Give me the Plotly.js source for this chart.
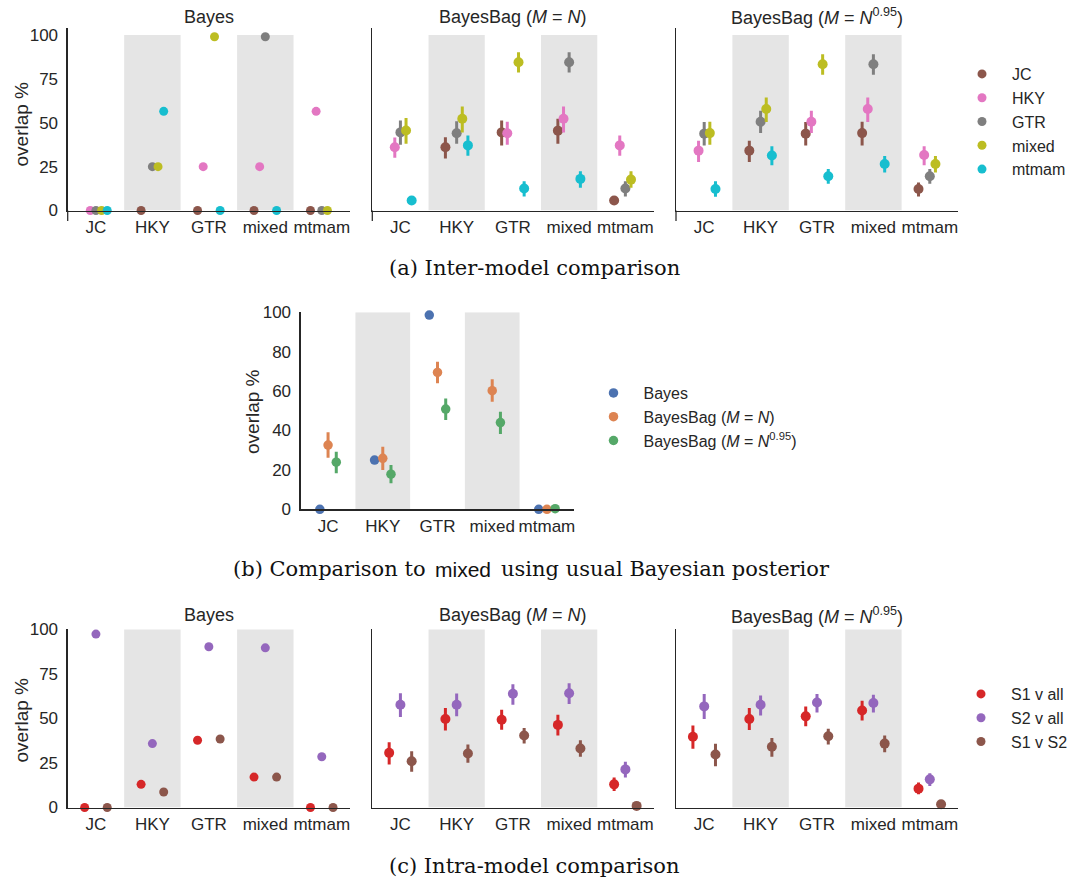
<!DOCTYPE html>
<html>
<head>
<meta charset="utf-8">
<script src="https://cdn.plot.ly/plotly-3.0.1.min.js"></script>
<style>html,body{margin:0;padding:0;background:#fff;}#chart{width:1075px;height:882px;}</style>
</head>
<body>
<div id="chart"></div>
<script>
// ---------------- DATA ----------------
const categories = ['JC', 'HKY', 'GTR', 'mixed', 'mtmam'];

// (a) inter-model comparison: hue = compared model, one row per hue, columns = categories
const interHues = ['JC', 'HKY', 'GTR', 'mixed', 'mtmam'];
const interBayes = [
  [null, 0, 0, 0, 0],
  [0, null, 25, 25, 56.5],
  [0, 25, null, 99, 0],
  [0, 25, 99, null, 0],
  [0, 56.5, 0, 0, null]
];
const interBagN = [
  [null, 36, 44.5, 45.5, 5.7],
  [36, null, 44, 52.3, 37.1],
  [44.5, 44, null, 84.5, 12.5],
  [45.6, 52.3, 84.5, null, 17.6],
  [5.7, 37.1, 12.5, 18, null]
];
const interBagNLo = [
  [null, 29.6, 37.1, 38, 3.5],
  [30, null, 37.5, 44.5, 31.2],
  [37.5, 38.1, null, 78.6, 8],
  [38, 44.5, 78.6, null, 13],
  [3.7, 31.2, 8, 12.9, null]
];
const interBagNHi = [
  [null, 41.8, 51.3, 52.3, 8],
  [41.6, null, 50.6, 59.3, 42.8],
  [51.3, 50.8, null, 90.2, 16.7],
  [52.7, 59.3, 90.2, null, 22.3],
  [8, 42.8, 16.7, 22.3, null]
];
const interBag95 = [
  [null, 34.1, 43.8, 44.1, 12.3],
  [34.1, null, 50.6, 57.8, 31.6],
  [43.8, 50.6, null, 83.3, 19.5],
  [44.1, 57.8, 83.3, null, 26.5],
  [12.3, 31.3, 19.5, 26.5, null]
];
const interBag95Lo = [
  [null, 27.7, 37.1, 37.1, 8],
  [27.7, null, 44.1, 50.4, 25.8],
  [37.1, 44.1, null, 77.3, 15.2],
  [37.5, 50.4, 77.3, null, 21.6],
  [7.8, 25.8, 15.2, 21.6, null]
];
const interBag95Hi = [
  [null, 39.8, 50.4, 50.6, 16],
  [39.8, null, 56.9, 64.4, 36.6],
  [50.4, 56.9, null, 89, 23.7],
  [50.6, 64.4, 89, null, 31],
  [16.7, 36.6, 23.7, 31, null]
];

// (b) comparison to mixed
const mixedHues = ['Bayes', 'BayesBag (<i>M</i> = <i>N</i>)', 'BayesBag (<i>M</i> = <i>N</i><sup>0.95</sup>)'];
const mixedMean = [
  [0, 25, 98.6, null, 0],
  [32.6, 25.9, 69.5, 60.2, 0],
  [23.9, 17.8, 50.9, 44, 0.3]
];
const mixedLo = [
  [null, null, null, null, null],
  [26.2, 20, 64, 54.6, 0],
  [18.3, 13.2, 45.3, 38.2, 0.3]
];
const mixedHi = [
  [null, null, null, null, null],
  [39.1, 31.8, 74.9, 66, 0],
  [29.2, 22.5, 56.3, 49.5, 0.3]
];

// (c) intra-model comparison
const intraHues = ['S1 v all', 'S2 v all', 'S1 v S2'];
const intraBayes = [
  [0, 13, 37.8, 17.1, 0],
  [97.4, 35.9, 90.3, 89.7, 28.5],
  [0, 8.7, 38.5, 17.1, 0]
];
const intraBagN = [
  [30.7, 49.7, 49.3, 46.4, 13],
  [57.7, 57.7, 63.9, 64.2, 21.4],
  [26, 30.3, 40.4, 33.1, 0.9]
];
const intraBagNLo = [
  [24.2, 43.2, 43.7, 40.4, 9.3],
  [50.8, 51.2, 57.7, 58.1, 16.8],
  [20.1, 25.1, 35.9, 28.5, 0.9]
];
const intraBagNHi = [
  [36.6, 55.9, 54.9, 52.1, 16.8],
  [64.2, 64, 69.3, 69.8, 25.7],
  [31.6, 35.4, 44.7, 37.8, 0.9]
];
const intraBag95 = [
  [39.7, 49.7, 51.2, 54.5, 10.6],
  [56.8, 57.7, 59, 58.7, 15.8],
  [29.8, 34.1, 40, 35.9, 1.8]
];
const intraBag95Lo = [
  [33, 43.6, 45.6, 48.9, 7.4],
  [49.7, 51.7, 53.4, 53.4, 12.1],
  [23.2, 28.5, 35.4, 31.1, 1.8]
];
const intraBag95Hi = [
  [46, 55.9, 56.8, 59.9, 14],
  [63.7, 62.9, 63.7, 63.3, 19.2],
  [35.8, 39.1, 44.3, 40.4, 1.8]
];

const yTicksAC = [0, 25, 50, 75, 100];
const yTicksB = [0, 20, 40, 60, 80, 100];

// ---------------- STYLE ----------------
const interColors = ['#8c564b', '#e377c2', '#7f7f7f', '#bcbd22', '#17becf'];
const mixedColors = ['#4c72b0', '#dd8452', '#55a868'];
const intraColors = ['#d62728', '#9467bd', '#8c564b'];
const W = 1075, H = 882;
const FONT = 'Liberation Sans';
const FS = 17;
const TXT = '#262626';
const AX = '#262626';
const px = p => p / W;
const py = p => 1 - p / H;

const traces = [];
function addPanel(xa, ya, hues, colors, means, lo, hi, offsets, legendName, showLeg, msize) {
  hues.forEach((h, k) => {
    const y = means[k];
    const t = {
      type: 'scatter', mode: 'markers', name: h,
      x: categories.map((c, i) => i + offsets[k]),
      y: y,
      xaxis: xa, yaxis: ya,
      marker: {color: colors[k], size: msize},
      cliponaxis: false,
      showlegend: showLeg, legend: legendName,
      hoverinfo: 'skip'
    };
    if (lo && hi) {
      t.error_y = {
        type: 'data', symmetric: false,
        array: y.map((v, i) => (v == null || hi[k][i] == null) ? 0 : hi[k][i] - v),
        arrayminus: y.map((v, i) => (v == null || lo[k][i] == null) ? 0 : v - lo[k][i]),
        color: colors[k], thickness: 3, width: 0
      };
    }
    traces.push(t);
  });
}
const off5 = [-0.2, -0.1, 0, 0.1, 0.2];
const off3c = [-0.2, 0, 0.2];
const off3b = [-0.15, 0, 0.15];

addPanel('x', 'y', interHues, interColors, interBayes, null, null, off5, 'legend', true, 9);
addPanel('x2', 'y2', interHues, interColors, interBagN, interBagNLo, interBagNHi, off5, 'legend', false, 10);
addPanel('x3', 'y3', interHues, interColors, interBag95, interBag95Lo, interBag95Hi, off5, 'legend', false, 10);
addPanel('x4', 'y4', mixedHues, mixedColors, mixedMean, mixedLo, mixedHi, off3b, 'legend2', true, 9.5);
addPanel('x5', 'y5', intraHues, intraColors, intraBayes, null, null, off3c, 'legend3', true, 9);
addPanel('x6', 'y6', intraHues, intraColors, intraBagN, intraBagNLo, intraBagNHi, off3c, 'legend3', false, 10);
addPanel('x7', 'y7', intraHues, intraColors, intraBag95, intraBag95Lo, intraBag95Hi, off3c, 'legend3', false, 10);

// panel geometry in pixels
const colsX = [[67.7, 350], [372.3, 653.5], [676, 958]];
const topY = [28, 210.5], botY = [628.6, 807.5], midX = [300.7, 574.3], midY = [312.3, 509.3];

function xAxis(dom, anchor) {
  return {
    domain: [px(dom[0]), px(dom[1])], anchor: anchor,
    range: [-0.5, 4.5], tickvals: categories.map((c, i) => i), ticktext: categories,
    showline: true, linecolor: AX, linewidth: 1.25, showgrid: false, zeroline: false,
    ticks: '', ticklabelstandoff: 1,
    tickfont: {family: FONT, size: FS, color: TXT}, fixedrange: true
  };
}
function yAxis(dom, anchor, range, tv, showLab) {
  return {
    domain: [py(dom[1]), py(dom[0])], anchor: anchor,
    range: range, tickvals: tv, showticklabels: showLab,
    showline: true, linecolor: AX, linewidth: 1.25, showgrid: false, zeroline: false,
    ticks: '', ticklabelstandoff: 5,
    tickfont: {family: FONT, size: FS, color: TXT}, fixedrange: true
  };
}
function legendBox(x, y) {
  return {x: px(x), y: py(y), xanchor: 'left', yanchor: 'top', bgcolor: 'rgba(0,0,0,0)',
    font: {family: FONT, size: 16, color: TXT}, itemwidth: 50, itemclick: false, tracegroupgap: 0};
}

const layout = {
  width: W, height: H, margin: {l: 0, r: 0, t: 0, b: 0},
  paper_bgcolor: '#fff', plot_bgcolor: 'rgba(0,0,0,0)',
  font: {family: FONT, size: FS, color: TXT},
  xaxis: xAxis(colsX[0], 'y'), yaxis: yAxis(topY, 'x', [0, 104], yTicksAC, true),
  xaxis2: xAxis(colsX[1], 'y2'), yaxis2: yAxis(topY, 'x2', [0, 104], yTicksAC, false),
  xaxis3: xAxis(colsX[2], 'y3'), yaxis3: yAxis(topY, 'x3', [0, 104], yTicksAC, false),
  xaxis4: xAxis(midX, 'y4'), yaxis4: yAxis(midY, 'x4', [0, 100], yTicksB, true),
  xaxis5: xAxis(colsX[0], 'y5'), yaxis5: yAxis(botY, 'x5', [0, 100.5], yTicksAC, true),
  xaxis6: xAxis(colsX[1], 'y6'), yaxis6: yAxis(botY, 'x6', [0, 100.5], yTicksAC, false),
  xaxis7: xAxis(colsX[2], 'y7'), yaxis7: yAxis(botY, 'x7', [0, 100.5], yTicksAC, false),
  showlegend: true,
  legend: legendBox(952, 57),
  legend2: legendBox(583.5, 376),
  legend3: legendBox(951, 677),
  shapes: [],
  annotations: []
};

// shaded bands behind HKY and mixed
const bandAxes = [['x', 'y'], ['x2', 'y2'], ['x3', 'y3'], ['x4', 'y4'], ['x5', 'y5'], ['x6', 'y6'], ['x7', 'y7']];
bandAxes.forEach(([xa, ya]) => {
  [1, 3].forEach(ci => {
    layout.shapes.push({type: 'rect', xref: xa, yref: ya, x0: ci - 0.5, x1: ci + 0.5, y0: 0, y1: 100,
      fillcolor: '#e5e5e5', line: {width: 0}, layer: 'below'});
  });
});
// short extension of the top-row y spines below zero
colsX.forEach(c => {
  layout.shapes.push({type: 'line', xref: 'paper', yref: 'paper', x0: px(c[0]), x1: px(c[0]),
    y0: py(210.5), y1: py(221), line: {color: AX, width: 1.25}});
});

function ann(text, x, y, opts) {
  layout.annotations.push(Object.assign({text: text, xref: 'paper', yref: 'paper', x: px(x), y: py(y),
    xanchor: 'center', yanchor: 'middle', showarrow: false,
    font: {family: FONT, size: 18, color: TXT}}, opts || {}));
}
const titles = ['Bayes', 'BayesBag (<i>M</i> = <i>N</i>)', 'BayesBag (<i>M</i> = <i>N</i><sup>0.95</sup>)'];
titles.forEach((t, i) => {
  const cx = (colsX[i][0] + colsX[i][1]) / 2;
  ann(t, cx, 17, {});
  ann(t, cx, 615, {});
});
const YLAB = {family: FONT, size: 19, color: TXT};
ann('overlap %', 20.5, 124, {textangle: -90, font: YLAB});
ann('overlap %', 253, 412, {textangle: -90, font: YLAB});
ann('overlap %', 20.5, 720, {textangle: -90, font: YLAB});

const SERIF = 'DejaVu Serif';
const CAP = {family: SERIF, size: 21, color: '#111'};
ann('(a) Inter-model comparison', 534, 268, {font: CAP});
ann('(b) Comparison to', 428, 569, {font: CAP, xanchor: 'right'});
ann('mixed', 463, 569, {font: {family: FONT, size: 21, color: '#111'}});
ann('using usual Bayesian posterior', 499, 569, {font: CAP, xanchor: 'left'});
ann('(c) Intra-model comparison', 534, 866, {font: CAP});

Plotly.newPlot('chart', traces, layout, {staticPlot: true, displayModeBar: false});
</script>
</body>
</html>
